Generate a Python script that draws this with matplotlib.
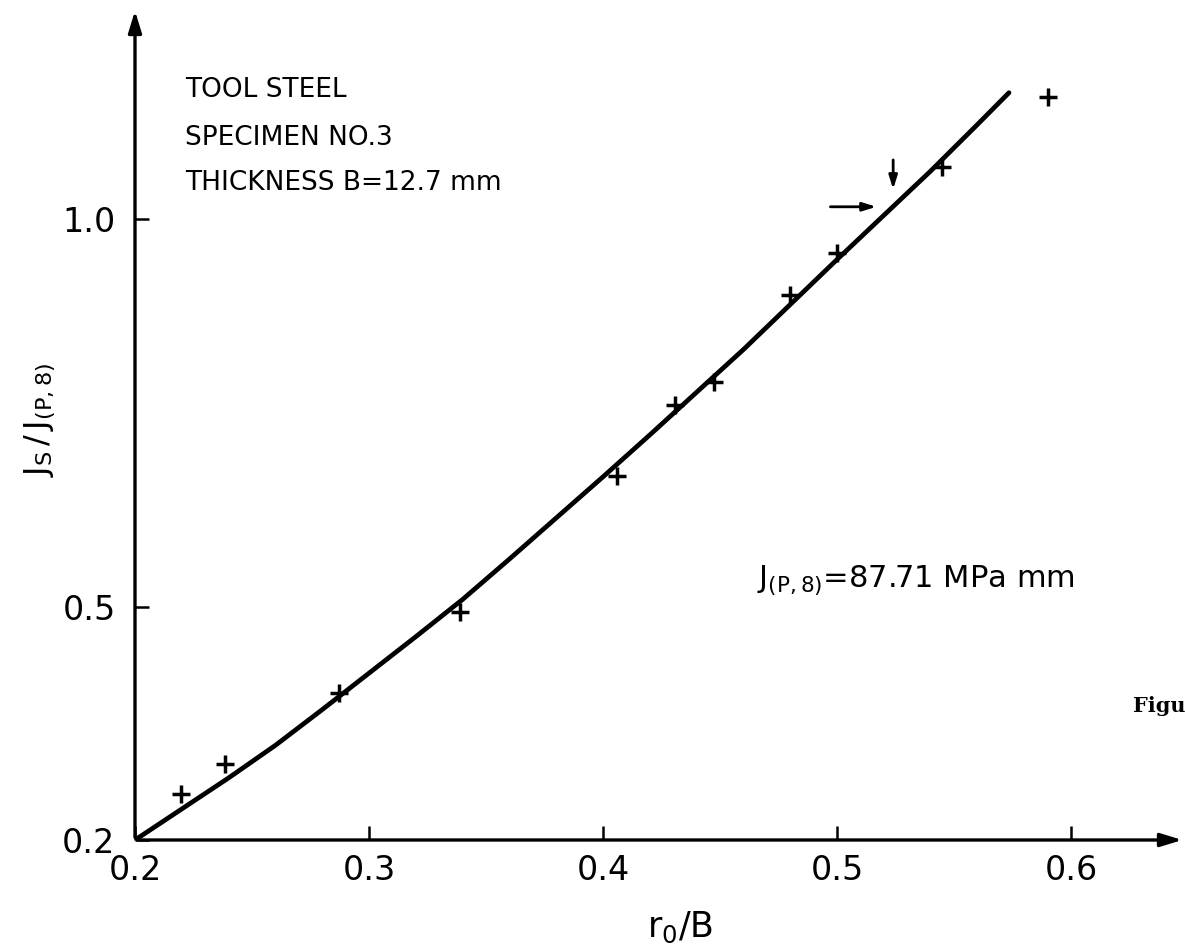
import matplotlib
matplotlib.use("Agg")
import matplotlib.pyplot as plt

# measured points (crosses)
r_ratio = [0.2197, 0.2385, 0.2872, 0.3389, 0.406, 0.4308, 0.4474, 0.480, 0.500, 0.545, 0.590]
j_ratio = [0.259, 0.298, 0.389, 0.494, 0.669, 0.761, 0.790, 0.902, 0.956, 1.067, 1.157]

# hand drawn fitted curve
curve_x = [0.20, 0.22, 0.24, 0.26, 0.28, 0.30, 0.32, 0.34, 0.36, 0.38,
           0.40, 0.42, 0.44, 0.46, 0.48, 0.50, 0.52, 0.54, 0.56, 0.5735]
curve_y = [0.200, 0.240, 0.280, 0.322, 0.368, 0.415, 0.462, 0.510, 0.562, 0.615,
           0.668, 0.722, 0.777, 0.832, 0.890, 0.948, 1.005, 1.062, 1.122, 1.163]

x_ticks = [0.2, 0.3, 0.4, 0.5, 0.6]
x_ticklabels = ["0.2", "0.3", "0.4", "0.5", "0.6"]
y_ticks = [0.2, 0.5, 1.0]
y_ticklabels = ["0.2", "0.5", "1.0"]

plt.rcParams['font.family'] = ['DejaVu Sans']
plt.rcParams['mathtext.fontset'] = 'dejavusans'

fig = plt.figure(figsize=(11.85, 9.52), dpi=100)
ax = fig.add_axes([135/1185, 112/952, 1050/1185, 832/952])
ax.set_xlim(0.2, 0.2 + 1050/2340)
ax.set_ylim(0.2, 0.2 + 832/776)

ax.plot(curve_x, curve_y, color='black', lw=3.4, solid_capstyle='round', solid_joinstyle='round')
ax.plot(r_ratio, j_ratio, linestyle='none', marker='+', color='black', markersize=13, mew=2.5)

for s in ['top', 'right', 'left', 'bottom']:
    ax.spines[s].set_visible(False)
# axes with arrow heads
ax.annotate('', xy=(1.0, 0), xytext=(0, 0), xycoords='axes fraction',
            arrowprops=dict(arrowstyle='-|>,head_length=1.3,head_width=0.4', color='black', lw=2.4))
ax.annotate('', xy=(0, 1.0), xytext=(0, 0), xycoords='axes fraction',
            arrowprops=dict(arrowstyle='-|>,head_length=1.3,head_width=0.4', color='black', lw=2.4))

ax.set_xticks(x_ticks)
ax.set_xticklabels(x_ticklabels)
ax.set_yticks(y_ticks)
ax.set_yticklabels(y_ticklabels)
ax.tick_params(direction='in', length=10, width=1.8, labelsize=24, pad=10)
ax.tick_params(axis='y', pad=14)

ax.set_xlabel(r'$\mathregular{r_0/B}$', fontsize=25)
ax.set_ylabel(r'$\mathregular{J_S\,/\,J_{(P,8)}}$', fontsize=23)
ax.xaxis.set_label_coords((680-135)/1050, -70/832)
ax.yaxis.set_label_coords(-78/1050, (840-420)/832)

ax.text(0.2214, 1.157, "TOOL STEEL", fontsize=19, va='baseline')
ax.text(0.2214, 1.096, "SPECIMEN NO.3", fontsize=19, va='baseline')
ax.text(0.2214, 1.038, "THICKNESS B=12.7 mm", fontsize=19, va='baseline')
ax.text(0.466, 0.525, r'$\mathregular{J_{(P,8)}}$=87.71 MPa mm', fontsize=22, va='baseline')

# arrows marking the point
ax.annotate('', xy=(0.518, 1.016), xytext=(0.496, 1.016),
            arrowprops=dict(arrowstyle='-|>,head_length=0.8,head_width=0.25', color='black', lw=2))
ax.annotate('', xy=(0.524, 1.035), xytext=(0.524, 1.080),
            arrowprops=dict(arrowstyle='-|>,head_length=0.8,head_width=0.25', color='black', lw=2))

fig.text(1133/1185, 1 - 712/952, "Figu", fontsize=15, family='serif', fontweight='bold')

fig.savefig('out.png', dpi=100)
